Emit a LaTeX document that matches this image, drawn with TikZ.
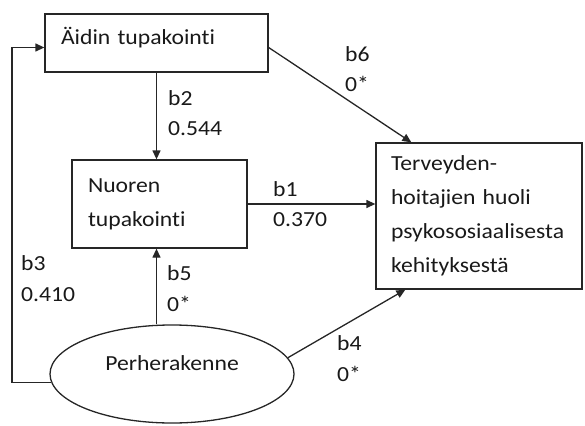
\documentclass[tikz,border=0pt]{standalone}
\usepackage{fontspec}
\setmainfont{Carlito}[FakeStretch=1.1,Ligatures={NoCommon,NoContextual}]
\usetikzlibrary{arrows.meta,calc,shapes.geometric}
\begin{document}
\begin{tikzpicture}[x=1pt,y=-1pt,
  box/.style={draw=black!85,line width=1.3pt,rectangle,inner xsep=16pt,inner ysep=0pt,
    align=left,text=black!90,font=\fontsize{21.5}{34}\selectfont},
  arr/.style={draw=black!85,line width=1.3pt,-{Triangle[length=9pt,width=8pt]}},
  lbl/.style={anchor=base west,inner sep=0pt,text=black!90,font=\fontsize{21.5}{26}\selectfont}]
\useasboundingbox (0,0) rectangle (585,425);

\node[box,minimum width=223pt,minimum height=58pt,text width=191pt,text height=15pt,text depth=11pt]
  (aidin) at (156.5,43) {Äidin tupakointi};
\node[box,minimum width=175pt,minimum height=88pt,text width=143pt]
  (nuoren) at (159.5,204) {Nuoren\\tupakointi};
\node[box,minimum width=206pt,minimum height=146pt,text width=176pt,inner xsep=15pt]
  (terv) at (479,216) {Terveyden-\\hoitajien huoli\\psykososiaalisesta\\kehityksestä};
\node[ellipse,draw=black!85,line width=1.3pt,minimum width=244pt,minimum height=98pt,inner sep=0pt,
  text=black!90,font=\fontsize{21.5}{26}\selectfont,text height=12pt,text depth=20pt]
  (perhe) at (172,374) {Perherakenne};

\coordinate (aout) at ($(aidin.east)+(0,4.5)$);
\coordinate (tin6) at ($(terv.north west)+(36,0)$);
\coordinate (tin4) at ($(terv.south west)+(30,0)$);
\coordinate (leftx) at (12,0);
\coordinate (ain) at ($(aidin.west)+(0,4.5)$);

\draw[arr] (aidin.south) -- (aidin.south |- nuoren.north);
\draw[arr] (nuoren.east) -- (nuoren.east -| terv.west);
\draw[arr] (aout) -- (tin6);
\draw[arr] (aidin.south |- perhe.north) -- (aidin.south |- nuoren.south);
\draw[arr] (perhe.8) -- (tin4);
\draw[arr] (perhe.184) -- (perhe.184 -| leftx) |- (ain);

\node[lbl] (l2a) at (168,105) {b2};
\node[lbl] (l2b) at (168,135) {0.544};
\node[lbl] (l1a) at (273,196) {b1};
\node[lbl] (l1b) at (273,226) {0.370};
\node[lbl] (l6a) at (345,62) {b6};
\node[lbl] (l6b) at (345,92) {0*};
\node[lbl] (l5a) at (167,280) {b5};
\node[lbl] (l5b) at (167,311) {0*};
\node[lbl] (l3a) at (21,270) {b3};
\node[lbl] (l3b) at (21,301) {0.410};
\node[lbl] (l4a) at (337,350) {b4};
\node[lbl] (l4b) at (337,381) {0*};
\end{tikzpicture}
\end{document}
